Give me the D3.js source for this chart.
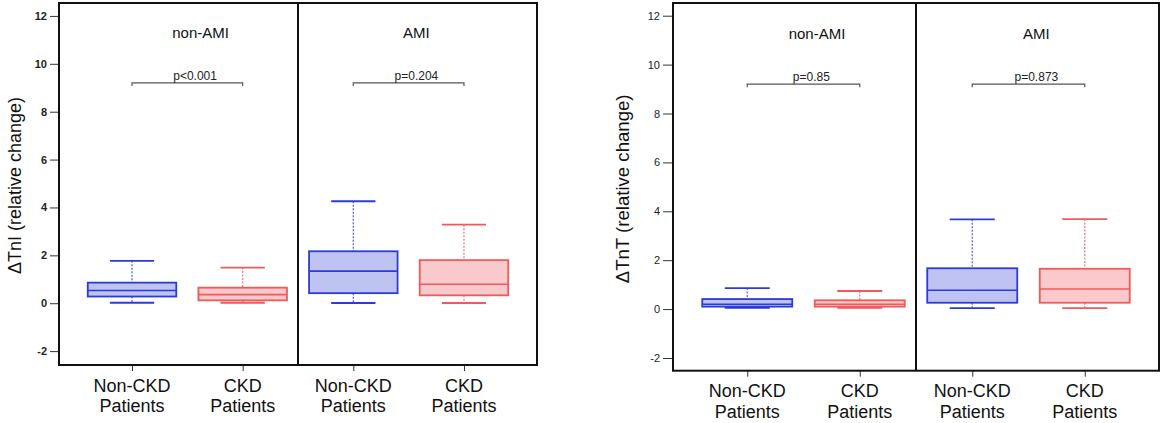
<!DOCTYPE html>
<html><head><meta charset="utf-8">
<script src="https://cdn.jsdelivr.net/npm/d3@7"></script>
<style>body{margin:0;background:#fff}svg{display:block;font-family:"Liberation Sans",Arial,sans-serif}</style>
</head><body><svg id="c" width="1160" height="423"></svg>
<script>
// ---- data ----
const panels = ["non-AMI", "AMI"];
const groups = [["Non-CKD", "Patients"], ["CKD", "Patients"]];
const yTicks = [-2, 0, 2, 4, 6, 8, 10, 12];
// order: non-AMI Non-CKD, non-AMI CKD, AMI Non-CKD, AMI CKD
const tniUpper  = [1.77, 1.49, 4.26, 3.28];
const tniQ3     = [0.86, 0.65, 2.17, 1.80];
const tniMedian = [0.53, 0.36, 1.34, 0.79];
const tniQ1     = [0.28, 0.12, 0.42, 0.33];
const tniLower  = [0.02, 0.02, 0.01, 0.01];
const tntUpper  = [0.86, 0.74, 3.67, 3.68];
const tntQ3     = [0.41, 0.36, 1.67, 1.65];
const tntMedian = [0.20, 0.20, 0.77, 0.82];
const tntQ1     = [0.10, 0.10, 0.26, 0.26];
const tntLower  = [0.05, 0.05, 0.04, 0.04];
const tniP = ["p<0.001", "p=0.204"];
const tntP = ["p=0.85", "p=0.873"];
const bracketY = 9.2;

const svg = d3.select("#c");
const strokeC = ["#2a3bd9", "#f05a5a"];
const fillC = ["#bfc3f1", "#f9c9cb"];
const whiskC = ["#5868e2", "#f07c7c"];

function drawChart(cfg) {
  const x = d3.scaleLinear().domain([-0.66, 3.66]).range([cfg.x0, cfg.x1]);
  const y = d3.scaleLinear().domain(cfg.yDomain).range([cfg.y1, cfg.y0]);
  const g = svg.append("g");
  const stats = cfg.upper.map((u, i) => ({i, upper: u, q3: cfg.q3[i], med: cfg.median[i], q1: cfg.q1[i], lower: cfg.lower[i]}));

  // y axis
  const ya = d3.axisLeft(y).tickValues(yTicks).tickFormat(d => String(d)).tickSize(cfg.tickSize).tickPadding(3).tickSizeOuter(0);
  const yg = g.append("g").attr("transform", `translate(${cfg.x0},0)`).call(ya);
  yg.select(".domain").remove();
  yg.selectAll("line").attr("stroke", "#333").attr("stroke-width", 1);
  yg.selectAll("text").attr("font-size", 11).attr("fill", "#222")
    .attr("font-family", '"Liberation Sans",Arial,sans-serif').attr("font-weight", cfg.bold ? "bold" : "normal");

  // x ticks
  const xa = d3.axisBottom(x).tickValues([0, 1, 2, 3]).tickSize(6).tickFormat("").tickSizeOuter(0);
  const xg = g.append("g").attr("transform", `translate(0,${cfg.y1})`).call(xa);
  xg.select(".domain").remove();
  xg.selectAll("line").attr("stroke", "#333");

  // x labels
  const lab = g.selectAll(".xl").data([0, 1, 2, 3]).enter().append("text")
    .attr("text-anchor", "middle").attr("font-size", 18).attr("fill", "#111");
  lab.append("tspan").attr("x", d => x(d)).attr("y", cfg.y1 + 26.5).text(d => groups[d % 2][0]);
  lab.append("tspan").attr("x", d => x(d)).attr("y", cfg.y1 + 26.5 + cfg.lineGap).text(d => groups[d % 2][1]);

  // y title
  g.append("text").attr("transform", `translate(${cfg.titleX},${(y(12) + y(-2)) / 2 + 2}) rotate(-90)`)
    .attr("text-anchor", "middle").attr("font-size", cfg.titleSize).attr("fill", "#111").text(cfg.title);

  // panel labels
  g.selectAll(".pl").data(panels).enter().append("text")
    .attr("x", (d, i) => x(0.62 + 2 * i - (i ? 0.05 : 0))).attr("y", y(11.06))
    .attr("text-anchor", "middle").attr("font-size", 15).attr("fill", "#111").text(d => d);

  // brackets
  [0, 1].forEach(p => {
    const xa0 = x(2 * p), xa1 = x(2 * p + 1), yb = y(bracketY);
    g.append("path").attr("d", `M${xa0},${yb + 3}V${yb}H${xa1}V${yb + 3}`)
      .attr("fill", "none").attr("stroke", "#555").attr("stroke-width", 1.2);
    g.append("text").attr("x", x(2 * p + 0.57)).attr("y", yb - 3).attr("text-anchor", "middle")
      .attr("font-size", 12).attr("fill", "#222").text(cfg.p[p]);
  });

  // boxes
  const bw = 0.8, cw = 0.4;
  const b = g.selectAll(".box").data(stats).enter().append("g");
  b.append("line").attr("x1", d => x(d.i)).attr("x2", d => x(d.i))
    .attr("y1", d => y(d.upper)).attr("y2", d => y(d.q3))
    .attr("stroke", d => whiskC[d.i % 2]).attr("stroke-width", 1.3).attr("stroke-dasharray", "2,1.5");
  b.append("line").attr("x1", d => x(d.i)).attr("x2", d => x(d.i))
    .attr("y1", d => y(d.q1)).attr("y2", d => y(d.lower))
    .attr("stroke", d => whiskC[d.i % 2]).attr("stroke-width", 1.3).attr("stroke-dasharray", "2,1.5");
  b.append("rect").attr("x", d => x(d.i - bw / 2)).attr("width", x(bw) - x(0))
    .attr("y", d => y(d.q3)).attr("height", d => y(d.q1) - y(d.q3))
    .attr("fill", d => fillC[d.i % 2]).attr("stroke", d => strokeC[d.i % 2]).attr("stroke-width", 1.8);
  b.append("line").attr("x1", d => x(d.i - bw / 2)).attr("x2", d => x(d.i + bw / 2))
    .attr("y1", d => y(d.med)).attr("y2", d => y(d.med))
    .attr("stroke", d => strokeC[d.i % 2]).attr("stroke-width", 1.6);
  ["upper", "lower"].forEach(k => {
    b.append("line").attr("x1", d => x(d.i - cw / 2)).attr("x2", d => x(d.i + cw / 2))
      .attr("y1", d => y(d[k])).attr("y2", d => y(d[k]))
      .attr("stroke", d => strokeC[d.i % 2]).attr("stroke-width", 1.8);
  });

  // frame + divider
  g.append("rect").attr("x", cfg.x0).attr("y", cfg.y0).attr("width", cfg.x1 - cfg.x0).attr("height", cfg.y1 - cfg.y0)
    .attr("fill", "none").attr("stroke", "#111").attr("stroke-width", 2);
  g.append("line").attr("x1", x(1.5)).attr("x2", x(1.5)).attr("y1", cfg.y0).attr("y2", cfg.y1)
    .attr("stroke", "#111").attr("stroke-width", 2);
}

drawChart({x0: 59, x1: 537, y0: 3, y1: 365, yDomain: [-2.58, 12.54], tickSize: 9, bold: true,
  upper: tniUpper, q3: tniQ3, median: tniMedian, q1: tniQ1, lower: tniLower, p: tniP,
  title: "ΔTnI (relative change)", titleX: 21, titleSize: 18, lineGap: 20});
drawChart({x0: 673, x1: 1159, y0: 3, y1: 370.7, yDomain: [-2.52, 12.52], tickSize: 10, bold: false,
  upper: tntUpper, q3: tntQ3, median: tntMedian, q1: tntQ1, lower: tntLower, p: tntP,
  title: "ΔTnT (relative change)", titleX: 629, titleSize: 18.6, lineGap: 21});
</script></body></html>
